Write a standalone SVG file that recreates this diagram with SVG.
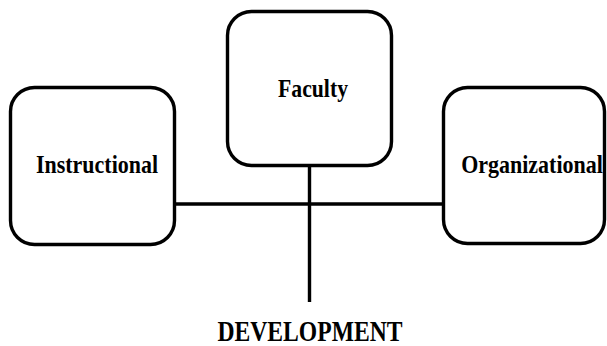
<svg xmlns="http://www.w3.org/2000/svg" width="607" height="346" viewBox="0 0 607 346">
<style>
.box{fill:#fff;stroke:#000;stroke-width:3.4}
.lbl{font-family:"Liberation Serif","DejaVu Serif",serif;font-weight:bold;font-size:25px;fill:#000;text-anchor:middle}
.conn{stroke:#000;stroke-width:3.4;fill:none}
</style>
<rect width="607" height="346" fill="#fff"/>
<g id="connectors">
<line class="conn" x1="175" y1="204" x2="443" y2="204"/>
<line class="conn" x1="309.5" y1="166" x2="309.5" y2="302"/>
</g>
<g id="instructional">
<rect class="box" x="10.5" y="87.5" width="164" height="157" rx="24"/>
<text class="lbl" x="97" y="173" textLength="122" lengthAdjust="spacingAndGlyphs">Instructional</text>
</g>
<g id="faculty">
<rect class="box" x="227.5" y="11.5" width="164" height="154" rx="24"/>
<text class="lbl" x="313" y="97" textLength="70" lengthAdjust="spacingAndGlyphs">Faculty</text>
</g>
<g id="organizational">
<rect class="box" x="443.5" y="87.5" width="161" height="156" rx="24"/>
<text class="lbl" transform="translate(532 173) scale(1 1.15)" x="0" y="0" style="font-size:22px">Organizational</text>
</g>
<g id="development">
<text class="lbl" x="310" y="341" style="font-size:29px" textLength="185" lengthAdjust="spacingAndGlyphs">DEVELOPMENT</text>
</g>
</svg>
